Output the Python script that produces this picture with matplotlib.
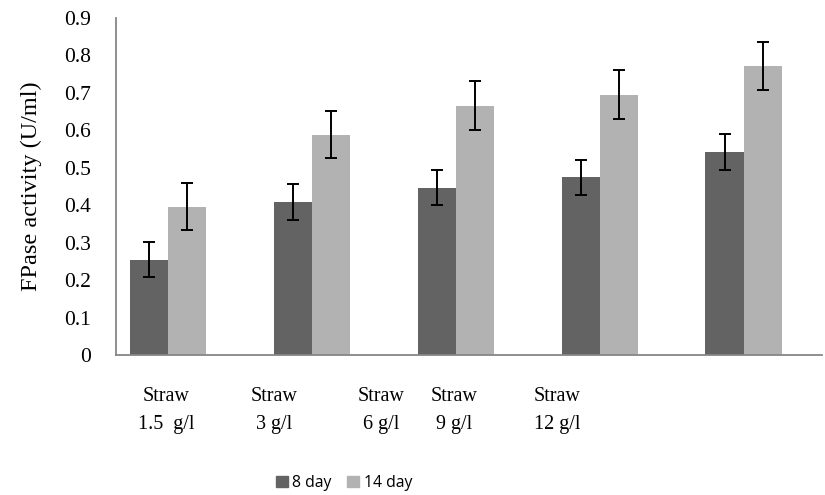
import numpy as np
import matplotlib
matplotlib.use("Agg")
import matplotlib.pyplot as plt
from matplotlib.patches import Patch

# Values
groups = ["1.5", "3", "6", "9", "12"]
day8 = [0.255, 0.408, 0.447, 0.475, 0.543]
day8_err = [0.047, 0.048, 0.046, 0.047, 0.048]
day14 = [0.396, 0.588, 0.666, 0.695, 0.773]
day14_err = [0.063, 0.063, 0.066, 0.066, 0.064]

# The category labels sit in loose text boxes, not under the bars
label_pos = [-0.01, 0.74, 1.48, 1.99, 2.70]
labels = ["Straw\n1.5  g/l", "Straw\n3 g/l", "Straw\n6 g/l", "Straw\n9 g/l", "Straw\n12 g/l"]
yticks = [0, 0.1, 0.2, 0.3, 0.4, 0.5, 0.6, 0.7, 0.8, 0.9]

dark = "#636363"
light = "#b2b2b2"
serif = ["Liberation Serif", "DejaVu Serif"]

fig = plt.figure(figsize=(8.25, 4.95), dpi=100)
ax = fig.add_axes([0.1406, 0.2828, 0.8554, 0.6808])

x = np.arange(len(groups))
w = 0.267
err_style = dict(ecolor="black", elinewidth=1.4, capsize=4, capthick=1.4)
ax.bar(x - w / 2, day8, w, color=dark, yerr=day8_err, error_kw=err_style)
ax.bar(x + w / 2, day14, w, color=light, yerr=day14_err, error_kw=err_style)

ax.set_xlim(-0.361, 4.54)
ax.set_ylim(0, 0.9)
ax.set_yticks(yticks)
ax.set_yticklabels([f"{t:g}" for t in yticks], fontfamily=serif, fontsize=15.5)
ax.tick_params(axis="y", length=0, pad=18)

ax.set_xticks(label_pos)
ax.set_xticklabels(labels, fontfamily=serif, fontsize=14.5, linespacing=1.65)
ax.tick_params(axis="x", length=0, pad=23)

ax.set_ylabel("FPase activity (U/ml)", fontfamily=serif, fontsize=17.5, labelpad=16)

for side in ["top", "right"]:
    ax.spines[side].set_visible(False)
for side in ["left", "bottom"]:
    ax.spines[side].set_color("#868686")
    ax.spines[side].set_linewidth(1.3)

handles = [Patch(color=dark), Patch(color=light)]
fig.legend(handles, ["8 day", "14 day"], loc="center", bbox_to_anchor=(0.417, 0.024),
           ncol=2, frameon=False, handlelength=0.75, handleheight=0.75,
           handletextpad=0.3, columnspacing=1.0, prop={"family": "Open Sans", "size": 11.3})

fig.savefig("out.png", dpi=100)
